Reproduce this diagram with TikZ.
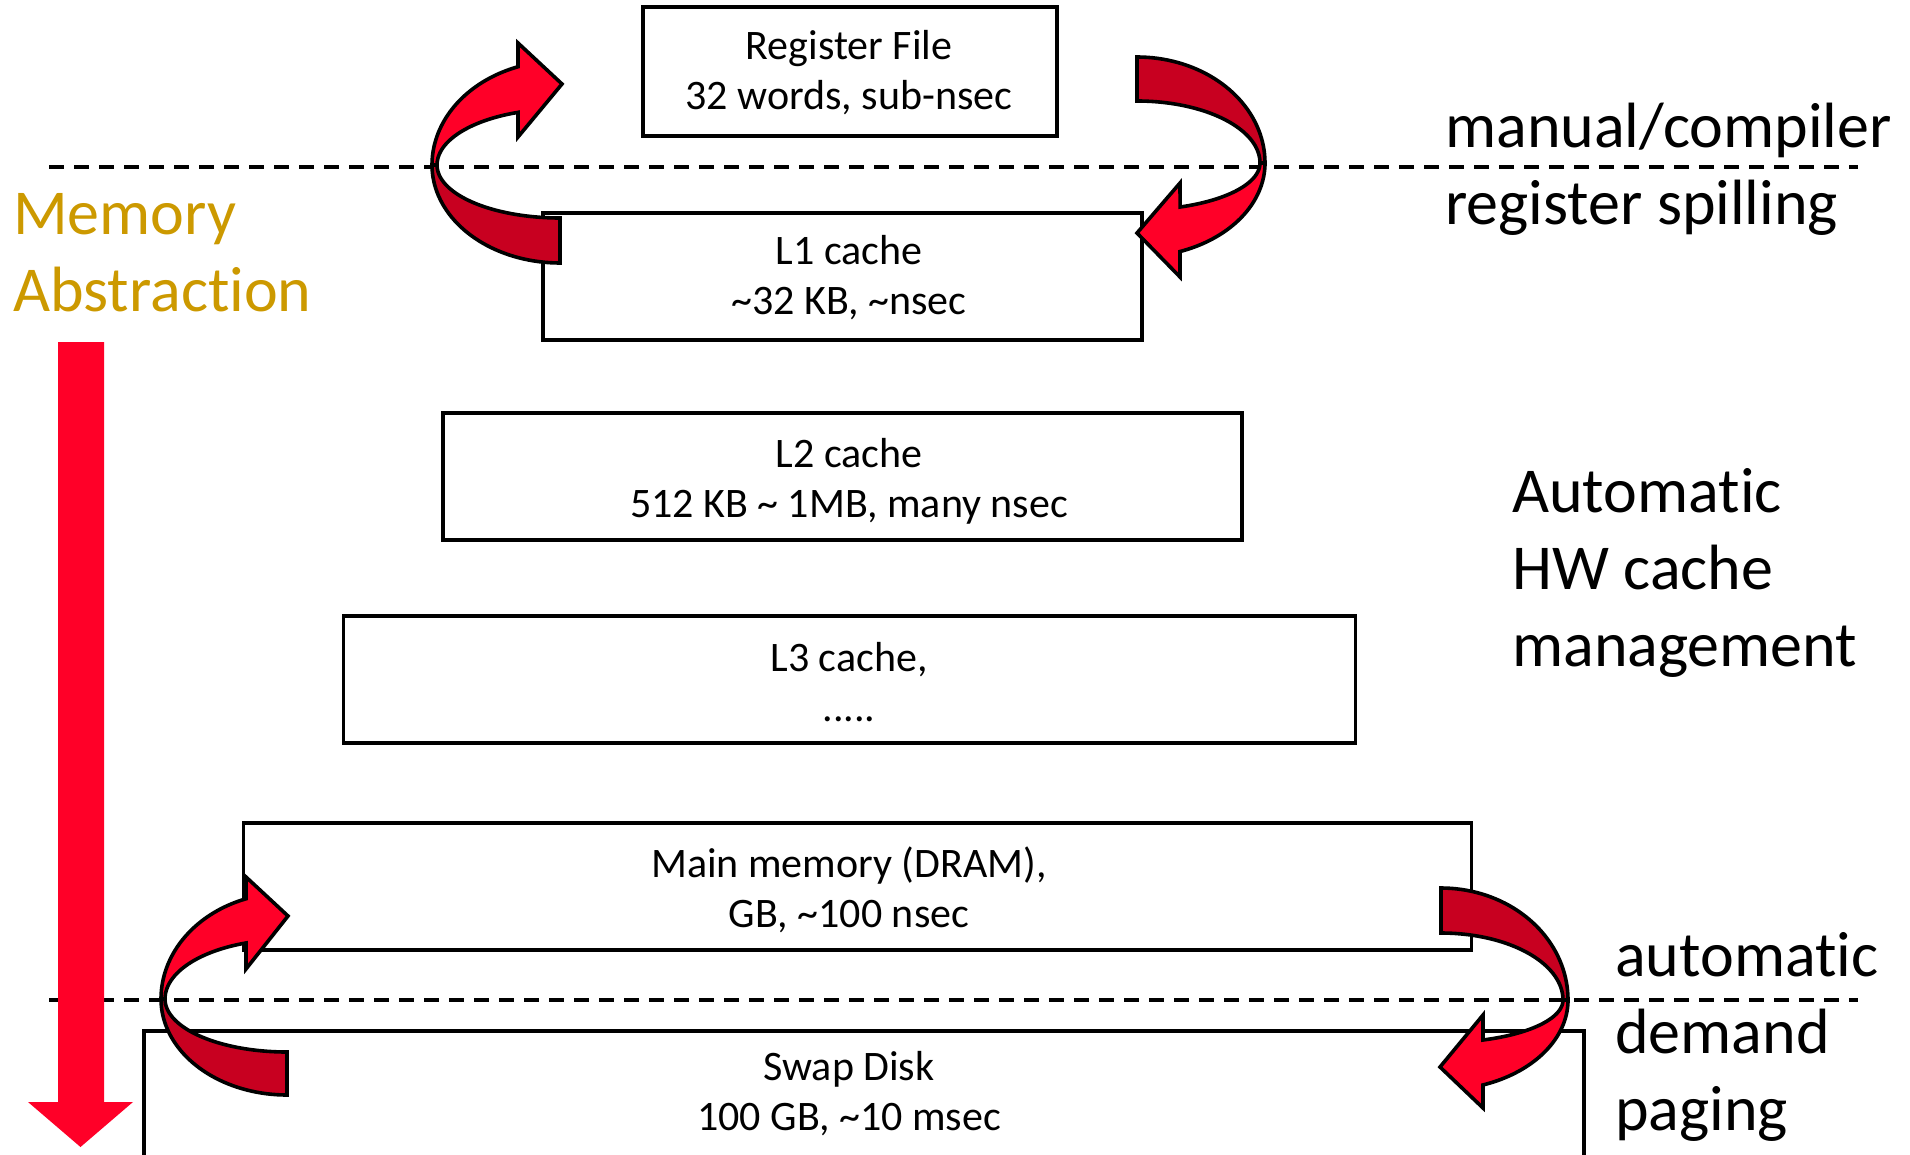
\documentclass[tikz,border=0pt]{standalone}
\usepackage{fontspec}
\setmainfont{Carlito}[Ligatures={NoCommon,NoRare},Contextuals=NoAlternate]
\definecolor{lred}{RGB}{255,0,40}
\definecolor{dred}{RGB}{200,0,32}
\definecolor{gold}{RGB}{204,153,0}
\begin{document}
\begin{tikzpicture}[x=1pt,y=-1pt,
  box/.style={draw=black, line width=3.3pt, inner sep=0pt},
  btext/.style={inner sep=0pt, align=center, font=\fontsize{42}{50}\selectfont},
  ltext/.style={inner sep=0pt, align=left, anchor=west, font=\fontsize{64}{77}\selectfont},
  dashline/.style={draw=black, line width=3.3pt, dash pattern=on 15pt off 10pt},
  darkband/.style={fill=dred, draw=black, line width=3.6pt},
  lightband/.style={fill=lred, draw=black, line width=3.6pt}]
\useasboundingbox (0,0) rectangle (1910,1155);
\clip (0,0) rectangle (1910,1155);

% boxes
\node[box, minimum width=414, minimum height=129] (rf) at (850,71.5) {};
\node[box, minimum width=599, minimum height=127] (l1) at (842.5,276.5) {};
\node[box, minimum width=799, minimum height=127] (l2) at (842.5,476.5) {};
\node[box, minimum width=1012, minimum height=127] (l3) at (849.5,679.5) {};
\node[box, minimum width=1228, minimum height=127] (mm) at (857.5,886.5) {};
\node[box, minimum width=1440, minimum height=127] (sd) at (864,1094.5) {};

% box texts
\node[btext] (rft) at (849,72.5) {Register File\\32 words, sub-nsec};
\node[btext] (l1t) at (849,277.5) {L1 cache\\\textasciitilde 32 KB, \textasciitilde nsec};
\node[btext] (l2t) at (849,481) {L2 cache\\512 KB \textasciitilde{} 1MB, many nsec};
\node[btext] (l3t) at (849,682) {L3 cache,\\.....};
\node[btext] (mmt) at (849,890) {Main memory (DRAM),\\GB, \textasciitilde 100 nsec};
\node[btext] (sdt) at (849,1094) {Swap Disk\\100 GB, \textasciitilde 10 msec};

% dashed separators
\coordinate (d1a) at (49,167);
\coordinate (d1b) at (1858,167);
\coordinate (d2a) at (49,1000);
\coordinate (d2b) at (1858,1000);
\draw[dashline] (d1a) -- (d1b);
\draw[dashline] (d2a) -- (d2b);

% side labels
\node[ltext] (lab1) at (1445,169) {manual/compiler\\register spilling};
\node[ltext] (lab2) at (1512,573) {Automatic\\HW cache\\management};
\node[ltext] (lab3) at (1615,1037) {automatic\\demand\\paging};
\node[ltext, text=gold] (lab4) at (13,253) {Memory\\Abstraction};

% big down arrow
\fill[lred] (58,342) -- (104,342) -- (104,1102) -- (133,1102) -- (80.5,1147) -- (28,1102) -- (58,1102) -- cycle;

% top-left curved arrow
\draw[darkband] plot[domain=90:180, samples=40] ({560+128*cos(\x)},{165+98*sin(\x)})
  -- plot[domain=180:90, samples=40] ({560+123*cos(\x)},{165+53*sin(\x)}) -- cycle;
\draw[lightband] plot[domain=180:250.85, samples=40] ({560+128*cos(\x)},{165+104*sin(\x)})
  -- (518,43) -- (562,84) -- (518,137)
  -- plot[domain=250.03:180, samples=40] ({560+123*cos(\x)},{165+56*sin(\x)}) -- cycle;

% top-right curved arrow
\draw[darkband] plot[domain=270:360, samples=40] ({1137+128*cos(\x)},{163+106*sin(\x)})
  -- plot[domain=360:270, samples=40] ({1137+123*cos(\x)},{163+62*sin(\x)}) -- cycle;
\draw[lightband] plot[domain=0:70.4, samples=40] ({1137+128*cos(\x)},{163+94*sin(\x)})
  -- (1180,277) -- (1137,233) -- (1180,183)
  -- plot[domain=69.5:0, samples=40] ({1137+123*cos(\x)},{163+47*sin(\x)}) -- cycle;

% bottom-left curved arrow
\draw[darkband] plot[domain=90:180, samples=40] ({287+126*cos(\x)},{999+96*sin(\x)})
  -- plot[domain=180:90, samples=40] ({287+122*cos(\x)},{999+53*sin(\x)}) -- cycle;
\draw[lightband] plot[domain=180:251, samples=40] ({287+126*cos(\x)},{999+106*sin(\x)})
  -- (246,877) -- (288,916) -- (246,969)
  -- plot[domain=250.36:180, samples=40] ({287+122*cos(\x)},{999+59.5*sin(\x)}) -- cycle;

% bottom-right curved arrow
\draw[darkband] plot[domain=270:360, samples=40] ({1441+127*cos(\x)},{1000+112*sin(\x)})
  -- plot[domain=360:270, samples=40] ({1441+122*cos(\x)},{1000+67*sin(\x)}) -- cycle;
\draw[lightband] plot[domain=0:70.7, samples=40] ({1441+127*cos(\x)},{1000+90*sin(\x)})
  -- (1483,1108) -- (1440,1067) -- (1483,1015)
  -- plot[domain=69.9:0, samples=40] ({1441+122*cos(\x)},{1000+42.6*sin(\x)}) -- cycle;
\end{tikzpicture}
\end{document}
